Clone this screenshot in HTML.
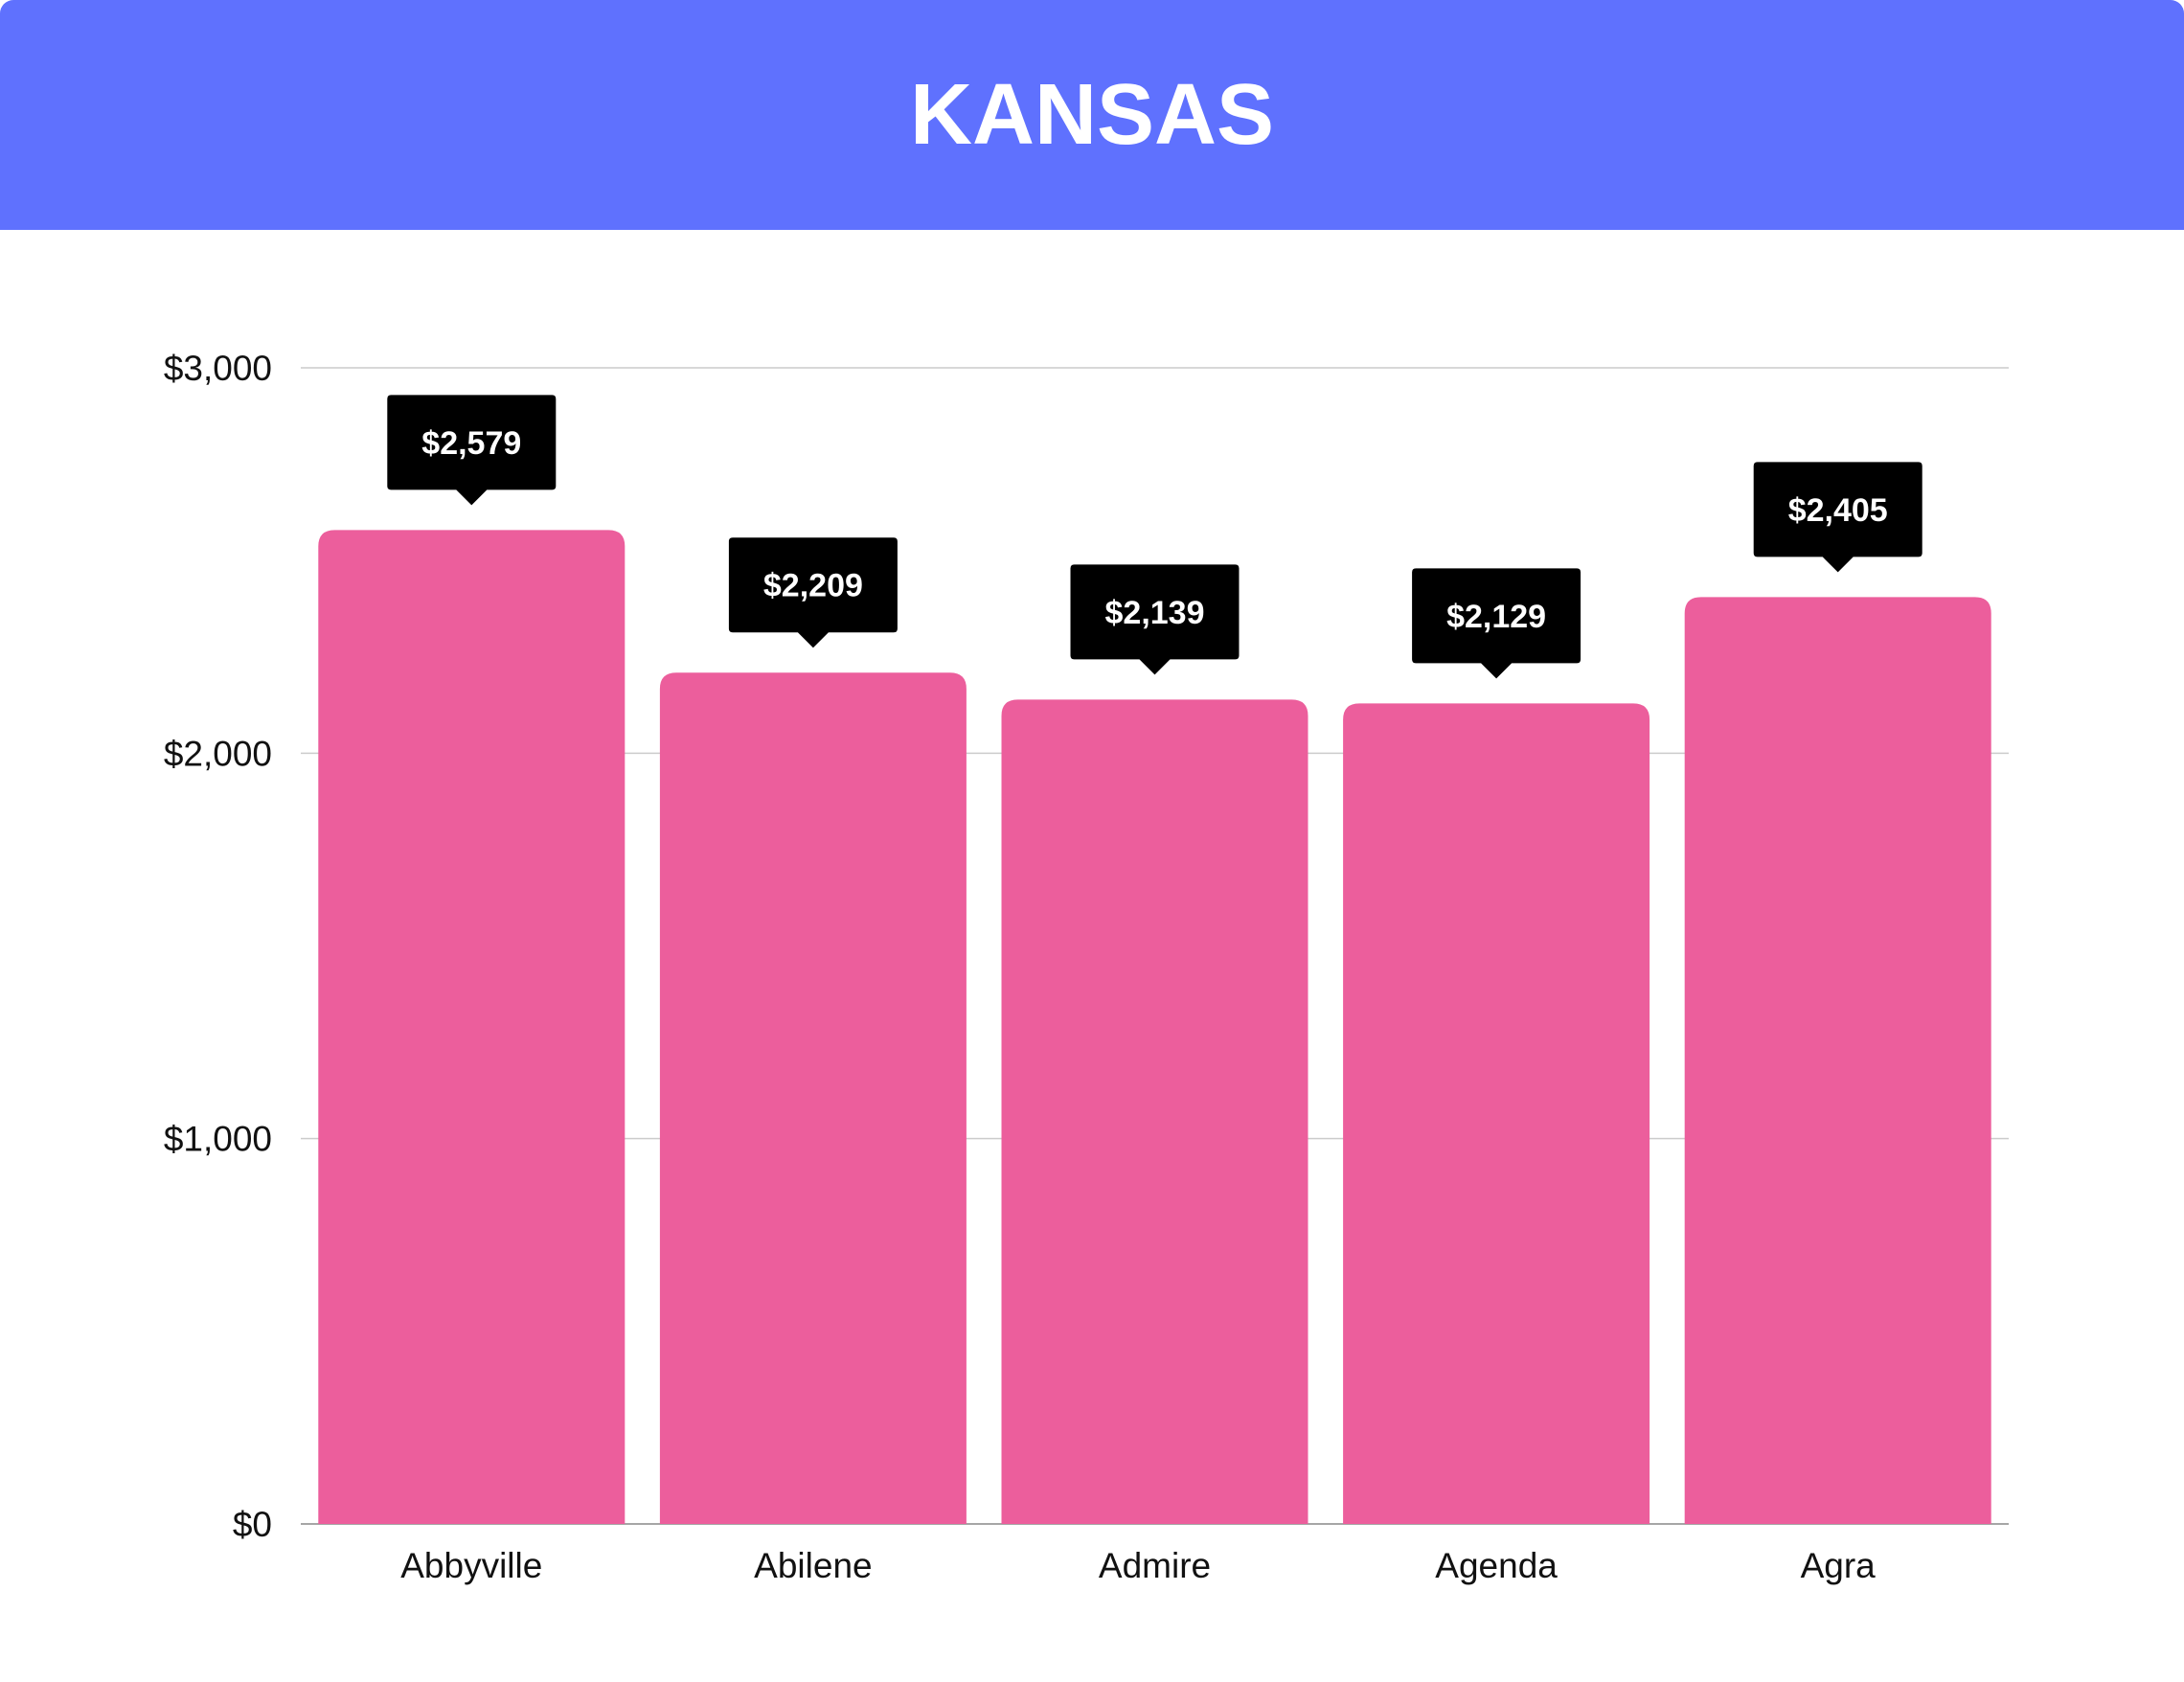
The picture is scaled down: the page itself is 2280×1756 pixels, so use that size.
<!DOCTYPE html>
<html><head><meta charset="utf-8"><style>
body{margin:0;width:2280px;height:1756px;background:#fff;overflow:hidden;font-family:"Liberation Sans",sans-serif}
#hdr{position:absolute;left:0;top:0;width:2280px;height:240px;background:#5f71fe;border-radius:14px 14px 0 0}
#hdr h1{margin:0;line-height:240px;text-align:center;color:#fff;font-size:90px;font-weight:bold}
</style></head><body>
<div id="hdr"><h1>KANSAS</h1></div>
<svg id="chart" width="2280" height="1756" style="position:absolute;left:0;top:0"></svg>
<script>
const categories=["Abbyville","Abilene","Admire","Agenda","Agra"];
const values=[2579,2209,2139,2129,2405];
const labels=["$2,579","$2,209","$2,139","$2,129","$2,405"];
const ticks=[0,1000,2000,3000];
const tickLabels=["$0","$1,000","$2,000","$3,000"];
const NS="http://www.w3.org/2000/svg",svg=document.getElementById('chart');
const L=314,R=2097,T0=1591,T3=384,yMax=3000;
const y=v=>T0-(T0-T3)*v/yMax;
const band=(R-L)/categories.length,bw=320;
const x=i=>L+band*i+(band-bw)/2;
function mk(t,a){const e=document.createElementNS(NS,t);for(const k in a)e.setAttribute(k,a[k]);svg.appendChild(e);return e;}
ticks.forEach((t,i)=>{
 const g=mk('line',{x1:L,x2:R,y1:y(t),y2:y(t),stroke:t===0?'#888':'#ccc','stroke-width':1.5});
 
 
 const tx=mk('text',{x:284,y:y(t)+13,'text-anchor':'end','font-size':37,fill:'#111'});
 tx.textContent=tickLabels[i];
 
 
});
categories.forEach((c,i)=>{
 const x0=x(i),yt=y(values[i]),h=T0-yt,r=17;
 const b=mk('path',{d:`M${x0},${T0}V${yt+r}Q${x0},${yt} ${x0+r},${yt}H${x0+bw-r}Q${x0+bw},${yt} ${x0+bw},${yt+r}V${T0}Z`,fill:'#ec5e9c'});
 
 
 const cx=x0+bw/2,bb=yt-42,bh=99,bwid=176;
 const tip=mk('path',{d:`M${cx-bwid/2+4},${bb-bh}H${cx+bwid/2-4}Q${cx+bwid/2},${bb-bh} ${cx+bwid/2},${bb-bh+4}V${bb-4}Q${cx+bwid/2},${bb} ${cx+bwid/2-4},${bb}H${cx+16}L${cx},${bb+16}L${cx-16},${bb}H${cx-bwid/2+4}Q${cx-bwid/2},${bb} ${cx-bwid/2},${bb-4}V${bb-bh+4}Q${cx-bwid/2},${bb-bh} ${cx-bwid/2+4},${bb-bh}Z`,fill:'#000'});
 
 
 const vt=mk('text',{x:cx,y:bb-bh/2+12,'text-anchor':'middle','font-size':34,'font-weight':'bold',fill:'#fff'});
 vt.textContent=labels[i];
 
 
 const xl=mk('text',{x:cx,y:1647,'text-anchor':'middle','font-size':37,fill:'#111'});
 xl.textContent=c;
 
 
});
</script>
</body></html>
